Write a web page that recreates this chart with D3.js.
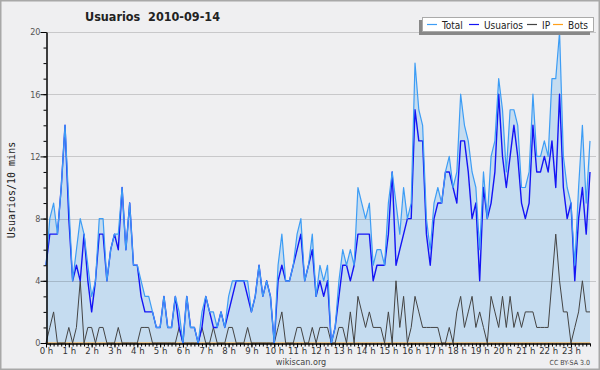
<!DOCTYPE html>
<html>
<head>
<meta charset="utf-8">
<script src="https://cdn.jsdelivr.net/npm/d3@7"></script>
<style>
  html, body { margin: 0; padding: 0; background: #efeff1; }
  svg { display: block; font-family: "DejaVu Sans Condensed", "DejaVu Sans", sans-serif; }
</style>
</head>
<body>
<div id="chart"></div>
<script>
const width = 600;
const height = 370;

// one value per 10 minutes, 00:00 .. 23:50
const usuarios = [
  5, 7, 7, 7, 10, 14, 8, 4, 5, 4,
  7, 4, 2, 4, 7, 7, 4, 6, 7, 6,
  10, 6, 9, 5, 5, 3, 2, 2, 2, 1,
  1, 3, 1, 1, 3, 1, 0, 3, 1, 1,
  0, 1, 3, 2, 1, 1, 2, 1, 2, 3,
  4, 4, 4, 3, 2, 3, 5, 3, 4, 3,
  0, 4, 5, 4, 4, 5, 6, 7, 4, 5,
  6, 3, 4, 3, 4, 0, 1, 3, 5, 5,
  4, 5, 7, 7, 7, 7, 4, 5, 5, 5,
  7, 11, 5, 6, 7, 8, 8, 15, 13, 13,
  7, 5, 8, 9, 9, 11, 11, 10, 9, 13,
  13, 11, 8, 9, 4, 10, 8, 9, 11, 16,
  12, 10, 12, 14, 12, 9, 8, 9, 14, 11,
  11, 12, 11, 13, 10, 16, 10, 8, 9, 4,
  8, 10, 7, 11
];

const ip = [
  0, 1, 2, 0, 0, 0, 1, 0, 1, 4,
  0, 1, 1, 0, 1, 1, 0, 0, 0, 1,
  0, 0, 0, 0, 0, 1, 1, 1, 0, 0,
  0, 0, 0, 0, 0, 1, 0, 0, 0, 0,
  0, 1, 0, 0, 1, 0, 0, 0, 1, 1,
  0, 0, 0, 1, 0, 0, 0, 0, 0, 0,
  0, 1, 2, 0, 0, 0, 1, 1, 0, 0,
  1, 0, 1, 1, 1, 0, 0, 1, 1, 0,
  2, 0, 3, 2, 1, 2, 1, 1, 1, 0,
  2, 0, 4, 1, 3, 0, 1, 3, 2, 1,
  1, 1, 1, 1, 0, 0, 1, 0, 2, 3,
  1, 2, 3, 1, 2, 1, 0, 3, 2, 1,
  3, 1, 3, 1, 2, 1, 2, 2, 2, 1,
  1, 1, 1, 4, 7, 4, 2, 2, 0, 1,
  2, 4, 2, 2
];

const total = [
  5, 8, 9, 7, 10, 14, 9, 4, 6, 8,
  7, 5, 3, 4, 8, 8, 4, 6, 7, 7,
  10, 6, 9, 5, 5, 4, 3, 3, 2, 1,
  1, 3, 1, 1, 3, 2, 0, 3, 1, 1,
  0, 2, 3, 2, 2, 1, 2, 1, 3, 4,
  4, 4, 4, 4, 2, 3, 5, 3, 4, 3,
  0, 5, 7, 4, 4, 5, 7, 8, 4, 5,
  7, 3, 5, 4, 5, 0, 1, 4, 6, 5,
  6, 5, 10, 9, 8, 9, 5, 6, 6, 5,
  9, 11, 9, 7, 10, 8, 9, 18, 15, 14,
  8, 6, 9, 10, 9, 11, 12, 10, 11, 16,
  14, 13, 11, 10, 6, 11, 8, 12, 13, 17,
  15, 11, 15, 15, 14, 10, 10, 11, 16, 12,
  12, 13, 12, 17, 17, 20, 12, 10, 9, 5,
  10, 14, 9, 13
];

const bots = [
  0, 0, 0, 0, 0, 0, 0, 0, 0, 0, 0, 0, 0, 0, 0, 0, 0, 0, 0, 0,
  0, 0, 0, 0, 0, 0, 0, 0, 0, 0, 0, 0, 0, 0, 0, 0, 0, 0, 0, 0,
  0, 0, 0, 0, 0, 0, 0, 0, 0, 0, 0, 0, 0, 0, 0, 0, 0, 0, 0, 0,
  0, 0, 0, 0, 0, 0, 0, 0, 0, 0, 0, 0, 0, 0, 0, 0, 0, 0, 0, 0,
  0, 0, 0, 0, 0, 0, 0, 0, 0, 0, 0, 0, 0, 0, 0, 0, 0, 0, 0, 0,
  0, 0, 0, 0, 0, 0, 0, 0, 0, 0, 0, 0, 0, 0, 0, 0, 0, 0, 0, 0,
  0, 0, 0, 0, 0, 0, 0, 0, 0, 0, 0, 0, 0, 0, 0, 0, 0, 0, 0, 0,
  0, 0, 0, 0
];

const hours = d3.range(0, 24);
const yTicks = [0, 4, 8, 12, 16, 20];

const series = [
  { name: "Total", values: total, color: "#3d9df5", width: 1.2 },
  { name: "Usuarios", values: usuarios, color: "#1414f5", width: 1.4 },
  { name: "IP", values: ip, color: "#444444", width: 1 },
  { name: "Bots", values: bots, color: "#ff9f1a", width: 1 }
];

const svg = d3.select("#chart").append("svg")
  .attr("width", width)
  .attr("height", height);

svg.append("rect")
  .attr("x", 0.5).attr("y", 0.5)
  .attr("width", width - 1).attr("height", height - 1)
  .attr("fill", "#efeff1")
  .attr("stroke", "#a8a8a8")
  .attr("stroke-width", 2);

const x = d3.scaleLinear().domain([0, total.length - 1]).range([46, 590]);
const y = d3.scaleLinear().domain([0, 20]).range([343, 32]);

// area under total
svg.append("path")
  .datum(total)
  .attr("fill", "#c5dcf0")
  .attr("d", d3.area()
    .x((d, i) => x(i))
    .y0(y(0))
    .y1(d => y(d)));

// grid lines
svg.append("g")
  .selectAll("line")
  .data(yTicks.filter(d => d > 0))
  .join("line")
  .attr("x1", x(0)).attr("x2", width - 4)
  .attr("y1", d => Math.round(y(d)) + 0.5)
  .attr("y2", d => Math.round(y(d)) + 0.5)
  .attr("stroke", "#000")
  .attr("stroke-opacity", 0.16);

// lines, bots first so it sits under the rest
const line = d3.line().x((d, i) => x(i)).y(d => y(d));
svg.append("g")
  .selectAll("path")
  .data(series.slice().reverse())
  .join("path")
  .attr("fill", "none")
  .attr("stroke", d => d.color)
  .attr("stroke-width", d => d.width)
  .attr("stroke-linejoin", "round")
  .attr("d", d => line(d.values));

// y axis
const yMinor = svg.append("g")
  .attr("transform", "translate(46.5,0)")
  .call(d3.axisLeft(y).tickValues(d3.range(0, 21)).tickSize(3).tickFormat(""));
yMinor.select(".domain").remove();

const yAxis = svg.append("g")
  .attr("transform", "translate(46.5,0)")
  .call(d3.axisLeft(y).tickValues(yTicks).tickSize(6).tickSizeOuter(0));
yAxis.select(".domain").attr("stroke", "#000").attr("stroke-width", 1.5);
yAxis.selectAll("text")
  .attr("font-size", 9)
  .attr("fill", "#555")
  .attr("font-family", "DejaVu Sans Condensed, sans-serif")
  .attr("x", -6);

// x axis
const xMinor = svg.append("g")
  .attr("transform", "translate(0,343.5)")
  .call(d3.axisBottom(x).tickValues(d3.range(0, total.length)).tickSize(3).tickFormat(""));
xMinor.select(".domain").remove();

const xAxis = svg.append("g")
  .attr("transform", "translate(0,343.5)")
  .call(d3.axisBottom(x)
    .tickValues(hours.map(h => h * 6))
    .tickSize(4)
    .tickSizeOuter(0)
    .tickFormat(d => (d / 6) + " h"));
xAxis.select(".domain").attr("stroke", "#000").attr("stroke-width", 1.5);
xAxis.selectAll("text")
  .attr("font-size", 9.5)
  .attr("fill", "#333")
  .attr("font-family", "DejaVu Sans Condensed, sans-serif")
  .attr("y", 4);

// title
svg.append("text")
  .attr("x", 85).attr("y", 21)
  .attr("font-size", 12.5)
  .attr("font-weight", "bold")
  .attr("fill", "#222")
  .style("white-space", "pre")
  .text("Usuarios  2010-09-14");

// y label
svg.append("text")
  .attr("transform", "translate(15,190) rotate(-90)")
  .attr("text-anchor", "middle")
  .attr("font-family", "DejaVu Sans Mono, monospace")
  .attr("font-size", 10)
  .attr("fill", "#222")
  .text("Usuarios/10 mins");

// legend
const legend = svg.append("g");
legend.append("rect")
  .attr("x", 419).attr("y", 20).attr("width", 171).attr("height", 15)
  .attr("fill", "#888");
legend.append("rect")
  .attr("x", 422.5).attr("y", 17.5).attr("width", 171).attr("height", 14)
  .attr("fill", "#fff").attr("stroke", "#aaa");

const legendX = [427, 469, 527, 553];
const item = legend.selectAll("g.item")
  .data(series)
  .join("g")
  .attr("class", "item")
  .attr("transform", (d, i) => `translate(${legendX[i]},24.5)`);
item.append("line")
  .attr("x1", 0).attr("x2", 10)
  .attr("stroke", d => d.color)
  .attr("stroke-width", 1.2);
item.append("text")
  .attr("x", 15).attr("y", 4)
  .attr("font-size", 10)
  .attr("fill", "#222")
  .text(d => d.name);

// footer
svg.append("text")
  .attr("x", 301).attr("y", 365)
  .attr("text-anchor", "middle")
  .attr("font-size", 9)
  .attr("fill", "#444")
  .text("wikiscan.org");

svg.append("text")
  .attr("x", 590).attr("y", 365)
  .attr("text-anchor", "end")
  .attr("font-size", 7)
  .attr("fill", "#444")
  .text("CC BY-SA 3.0");
</script>
</body>
</html>
